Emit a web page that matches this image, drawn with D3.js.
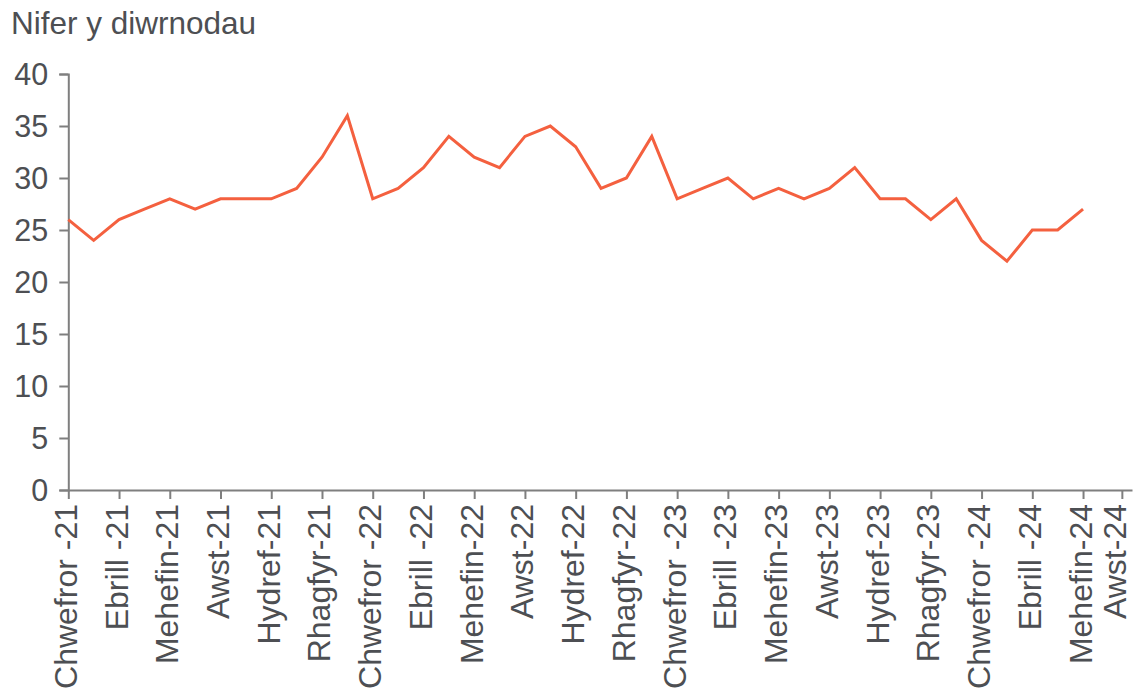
<!DOCTYPE html>
<html>
<head>
<meta charset="utf-8">
<script src="https://cdn.jsdelivr.net/npm/d3@7"></script>
<style>
  body { margin: 0; background: #fff; }
  svg text { font-family: "Liberation Sans", Arial, sans-serif; fill: #4d4f53; }
</style>
</head>
<body>
<svg width="1133" height="695"></svg>
<script>
// monthly values, Feb-21 .. Jun-24
let months = ["Chwefror -21", "Maw-21", "Ebrill -21", "Mai-21", "Mehefin-21", "Gorff-21", "Awst-21", "Medi-21",
  "Hydref-21", "Tach-21", "Rhagfyr-21", "Ion-22", "Chwefror -22", "Maw-22", "Ebrill -22", "Mai-22", "Mehefin-22",
  "Gorff-22", "Awst-22", "Medi-22", "Hydref-22", "Tach-22", "Rhagfyr-22", "Ion-23", "Chwefror -23", "Maw-23",
  "Ebrill -23", "Mai-23", "Mehefin-23", "Gorff-23", "Awst-23", "Medi-23", "Hydref-23", "Tach-23", "Rhagfyr-23",
  "Ion-24", "Chwefror -24", "Maw-24", "Ebrill -24", "Mai-24", "Mehefin-24"];
let days = [26, 24, 26, 27, 28, 27, 28, 28, 28, 29, 32, 36, 28, 29, 31, 34, 32, 31, 34, 35, 33, 29, 30, 34,
  28, 29, 30, 28, 29, 28, 29, 31, 28, 28, 26, 28, 24, 22, 25, 25, 27];
// axis labels every second month, ending at Aug-24
let tickLabels = ["Chwefror -21", "Ebrill -21", "Mehefin-21", "Awst-21", "Hydref-21", "Rhagfyr-21",
  "Chwefror -22", "Ebrill -22", "Mehefin-22", "Awst-22", "Hydref-22", "Rhagfyr-22",
  "Chwefror -23", "Ebrill -23", "Mehefin-23", "Awst-23", "Hydref-23", "Rhagfyr-23",
  "Chwefror -24", "Ebrill -24", "Mehefin-24", "Awst-24"];
let yTicks = [0, 5, 10, 15, 20, 25, 30, 35, 40];

let svg = d3.select("svg");
let axisColor = "#7f7f7f";

// axis runs to the page edge, last tick squeezed in before it
let xEnd = 41.93, lastTick = 41.53;
let x = d3.scaleLinear().domain([0, xEnd]).range([68.3, 1132]);
let y = d3.scaleLinear().domain([0, 40]).range([490, 74]);

let tickPos = tickLabels.map((d, i) => i == tickLabels.length - 1 ? lastTick : i * 2);

let xAxis = d3.axisBottom(x)
  .tickValues(tickPos)
  .tickSize(9)
  .tickSizeOuter(0)
  .tickPadding(12)
  .tickFormat((d, i) => tickLabels[i]);

let yAxis = d3.axisLeft(y)
  .tickValues(yTicks)
  .tickSize(9)
  .tickPadding(11)
  .tickFormat(d => d);

let gx = svg.append("g")
  .attr("transform", "translate(0," + y(0) + ")")
  .call(xAxis);
gx.selectAll("text")
  .attr("font-size", 32)
  .style("text-anchor", "end")
  .attr("x", -14)
  .attr("y", 0)
  .attr("dy", (d, i) => i == tickLabels.length - 1 ? ".12em" : ".25em")
  .attr("transform", "rotate(-90)");

let gy = svg.append("g")
  .attr("transform", "translate(" + x(0) + ",0)")
  .call(yAxis);
gy.selectAll("text").attr("font-size", 30.5).attr("dy", ".36em");

svg.selectAll(".domain, .tick line")
  .attr("stroke", axisColor)
  .attr("stroke-width", 2);

let line = d3.line()
  .x((d, i) => x(i))
  .y(d => y(d));

svg.append("path")
  .datum(days)
  .attr("fill", "none")
  .attr("stroke", "#f4603f")
  .attr("stroke-width", 3)
  .attr("stroke-linejoin", "miter")
  .attr("d", line);

svg.append("text")
  .attr("x", 11)
  .attr("y", 34)
  .attr("font-size", 31.5)
  .text("Nifer y diwrnodau");
</script>
</body>
</html>
